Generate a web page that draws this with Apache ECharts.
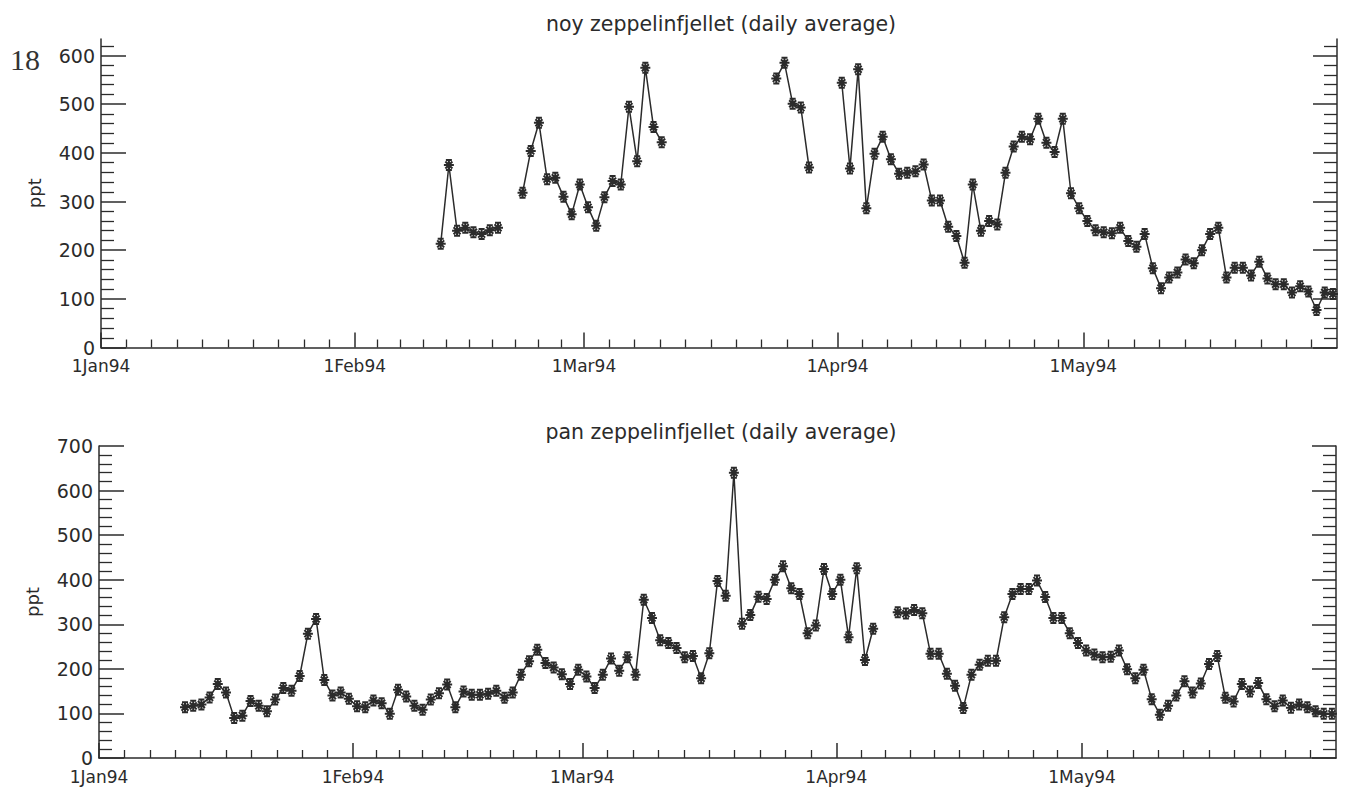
<!DOCTYPE html>
<html>
<head>
<meta charset="utf-8">
<script src="https://cdn.jsdelivr.net/npm/echarts@6/dist/echarts.min.js"></script>
<style>
html,body{margin:0;padding:0;background:#ffffff;}
#chart{width:1345px;height:791px;}
</style>
</head>
<body>
<div id="chart"></div>
<script>
// ---- data (day of year: 1 Jan 1994 = 0) ----
const monthStarts = [0, 31, 59, 90, 120, 151];
const monthLabels = ['1Jan94', '1Feb94', '1Mar94', '1Apr94', '1May94'];
const pageNumber = '18';
const noyTitle = 'noy zeppelinfjellet (daily average)';
const panTitle = 'pan zeppelinfjellet (daily average)';
const yName = 'ppt';
const noyYTicks = [0, 100, 200, 300, 400, 500, 600];
const panYTicks = [0, 100, 200, 300, 400, 500, 600, 700];

// noy: daily values from day 41 (11 Feb); null = no data
const noyStartDay = 41;
const noyValues = [
  213, 375, 240, 246, 237, 233, 241, 246,
  null, null,
  318, 404, 462, 346, 349, 310, 274, 335, 288, 250, 309, 342, 335, 495, 383, 575, 453, 422,
  null, null, null, null, null, null, null, null, null, null, null, null, null,
  553, 585, 501, 493, 370,
  null, null, null,
  544, 368, 572, 286, 398, 433, 387, 357, 359, 362, 376, 302, 302, 248, 229, 174, 335, 240, 260, 253,
  359, 413, 433, 428, 470, 421, 402, 470, 317, 286, 260, 241, 237, 235, 246, 219, 207, 233, 163, 122,
  144, 154, 181, 173, 200, 233, 246, 144, 164, 164, 148, 176, 142, 130, 130, 113, 126, 115, 77, 113, 110
];

// pan: daily values from day 10 (11 Jan); null = no data
const panStartDay = 10;
const panValues = [
  114, 117, 120, 136, 166, 147, 90, 95, 128, 117, 105, 131, 157, 151, 184, 279, 312, 175, 140, 147,
  133, 116, 114, 129, 123, 99, 153, 138, 117, 108, 131, 145, 165, 114, 149, 142, 142, 144, 151, 135,
  147, 187, 217, 243, 213, 203, 188, 166, 198, 183, 157, 187, 223, 196, 226, 187, 355, 314, 264, 258,
  247, 226, 229, 179, 235, 397, 364, 640, 301, 321, 362, 357, 400, 430, 381, 368, 280, 297, 424, 368,
  400, 271, 426, 220, 290,
  null, null,
  327, 324, 332, 325, 234, 234, 189, 162, 112, 187, 209, 218, 218, 316, 368, 379, 379, 398, 361, 314,
  314, 280, 258, 241, 232, 226, 227, 241, 199, 179, 198, 132, 97, 117, 140, 172, 147, 167, 211, 229,
  135, 127, 166, 149, 168, 132, 116, 129, 113, 120, 114, 105, 99, 99
];

// ---- helpers ----
const ink = '#2b2b2b';
const FONT = '"DejaVu Sans", "Noto Sans", sans-serif';
function toSeries(start, vals) {
  return vals.map((v, i) => [start + i + 0.5, v == null ? '-' : v]);
}
const majorX = monthStarts.slice(0, 5);
const minorX = [];
for (let m = 0; m < monthStarts.length - 1; m++) {
  const a = monthStarts[m], b = monthStarts[m + 1];
  for (let k = 1; k < 10; k++) minorX.push(a + (b - a) * k / 10);
}
function minorY(max, step, major) {
  const out = [];
  for (let v = step; v <= max; v += step) if (v % major !== 0) out.push(v);
  return out;
}
const lineStyle = { color: ink, width: 1.5 };

function xAxes(gridIndex) {
  return [
    {
      type: 'value', gridIndex, min: 0, max: 151, position: 'bottom',
      axisLine: { show: true, lineStyle },
      axisTick: { show: true, inside: true, length: 15, customValues: majorX, lineStyle },
      axisLabel: {
        show: true, margin: 10, customValues: majorX, color: ink,
        fontFamily: FONT, fontSize: 17,
        formatter: v => monthLabels[majorX.indexOf(v)] || ''
      },
      splitLine: { show: false }
    },
    {
      type: 'value', gridIndex, min: 0, max: 151, position: 'bottom',
      axisLine: { show: false },
      axisTick: { show: true, inside: true, length: 8, customValues: minorX, lineStyle: { color: ink, width: 1.3 } },
      axisLabel: { show: false },
      splitLine: { show: false }
    }
  ];
}
function yAxes(gridIndex, max, ticks) {
  const minors = minorY(max, 20, 100);
  const common = { type: 'value', gridIndex, min: 0, max, splitLine: { show: false } };
  return [
    Object.assign({}, common, {
      position: 'left',
      name: yName, nameLocation: 'middle', nameGap: 58,
      nameTextStyle: { color: ink, fontFamily: FONT, fontSize: 18 },
      axisLine: { show: true, lineStyle },
      axisTick: { show: true, inside: true, length: 25, customValues: ticks, lineStyle },
      axisLabel: { show: true, margin: 6, customValues: ticks, color: ink, fontFamily: FONT, fontSize: 19 }
    }),
    Object.assign({}, common, {
      position: 'left',
      axisLine: { show: false },
      axisTick: { show: true, inside: true, length: 13, customValues: minors, lineStyle: { color: ink, width: 1.3 } },
      axisLabel: { show: false }
    }),
    Object.assign({}, common, {
      position: 'right',
      axisLine: { show: true, lineStyle },
      axisTick: { show: true, inside: true, length: 24, customValues: ticks, lineStyle },
      axisLabel: { show: false }
    }),
    Object.assign({}, common, {
      position: 'right',
      axisLine: { show: false },
      axisTick: { show: true, inside: true, length: 13, customValues: minors, lineStyle: { color: ink, width: 1.3 } },
      axisLabel: { show: false }
    })
  ];
}

const asterisk = 'path://M0,5L10,5M5,0L5,10M1.5,1.5L8.5,8.5M8.5,1.5L1.5,8.5M2,0L8,0M2,10L8,10';
function lineSeries(name, data, xi, yi) {
  return {
    name, type: 'line', data, xAxisIndex: xi, yAxisIndex: yi,
    connectNulls: false, showSymbol: true, symbol: asterisk, symbolSize: 10,
    lineStyle: { color: ink, width: 1.5 },
    itemStyle: { color: ink, borderColor: ink, borderWidth: 2 },
    emphasis: { disabled: true }, z: 3
  };
}

const chart = echarts.init(document.getElementById('chart'), null, { renderer: 'svg' });
chart.setOption({
  animation: false,
  backgroundColor: '#ffffff',
  grid: [
    { left: 101, top: 39, width: 1236, height: 308.5 },
    { left: 99, top: 446, width: 1237, height: 312 }
  ],
  xAxis: [].concat(xAxes(0), xAxes(1)),
  yAxis: [].concat(yAxes(0, 634, noyYTicks), yAxes(1, 700, panYTicks)),
  series: [
    lineSeries('noy', toSeries(noyStartDay, noyValues), 0, 0),
    lineSeries('pan', toSeries(panStartDay, panValues), 2, 4)
  ],
  graphic: [
    { type: 'text', x: 721, y: 24, style: { text: noyTitle, fill: ink, font: '20.5px ' + FONT, textAlign: 'center', textVerticalAlign: 'middle' } },
    { type: 'text', x: 721, y: 432, style: { text: panTitle, fill: ink, font: '20.5px ' + FONT, textAlign: 'center', textVerticalAlign: 'middle' } },
    { type: 'text', x: 10, y: 59, style: { text: pageNumber, fill: '#333', font: '30px "Liberation Serif", serif', textAlign: 'left', textVerticalAlign: 'middle' } }
  ]
});
</script>
</body>
</html>
